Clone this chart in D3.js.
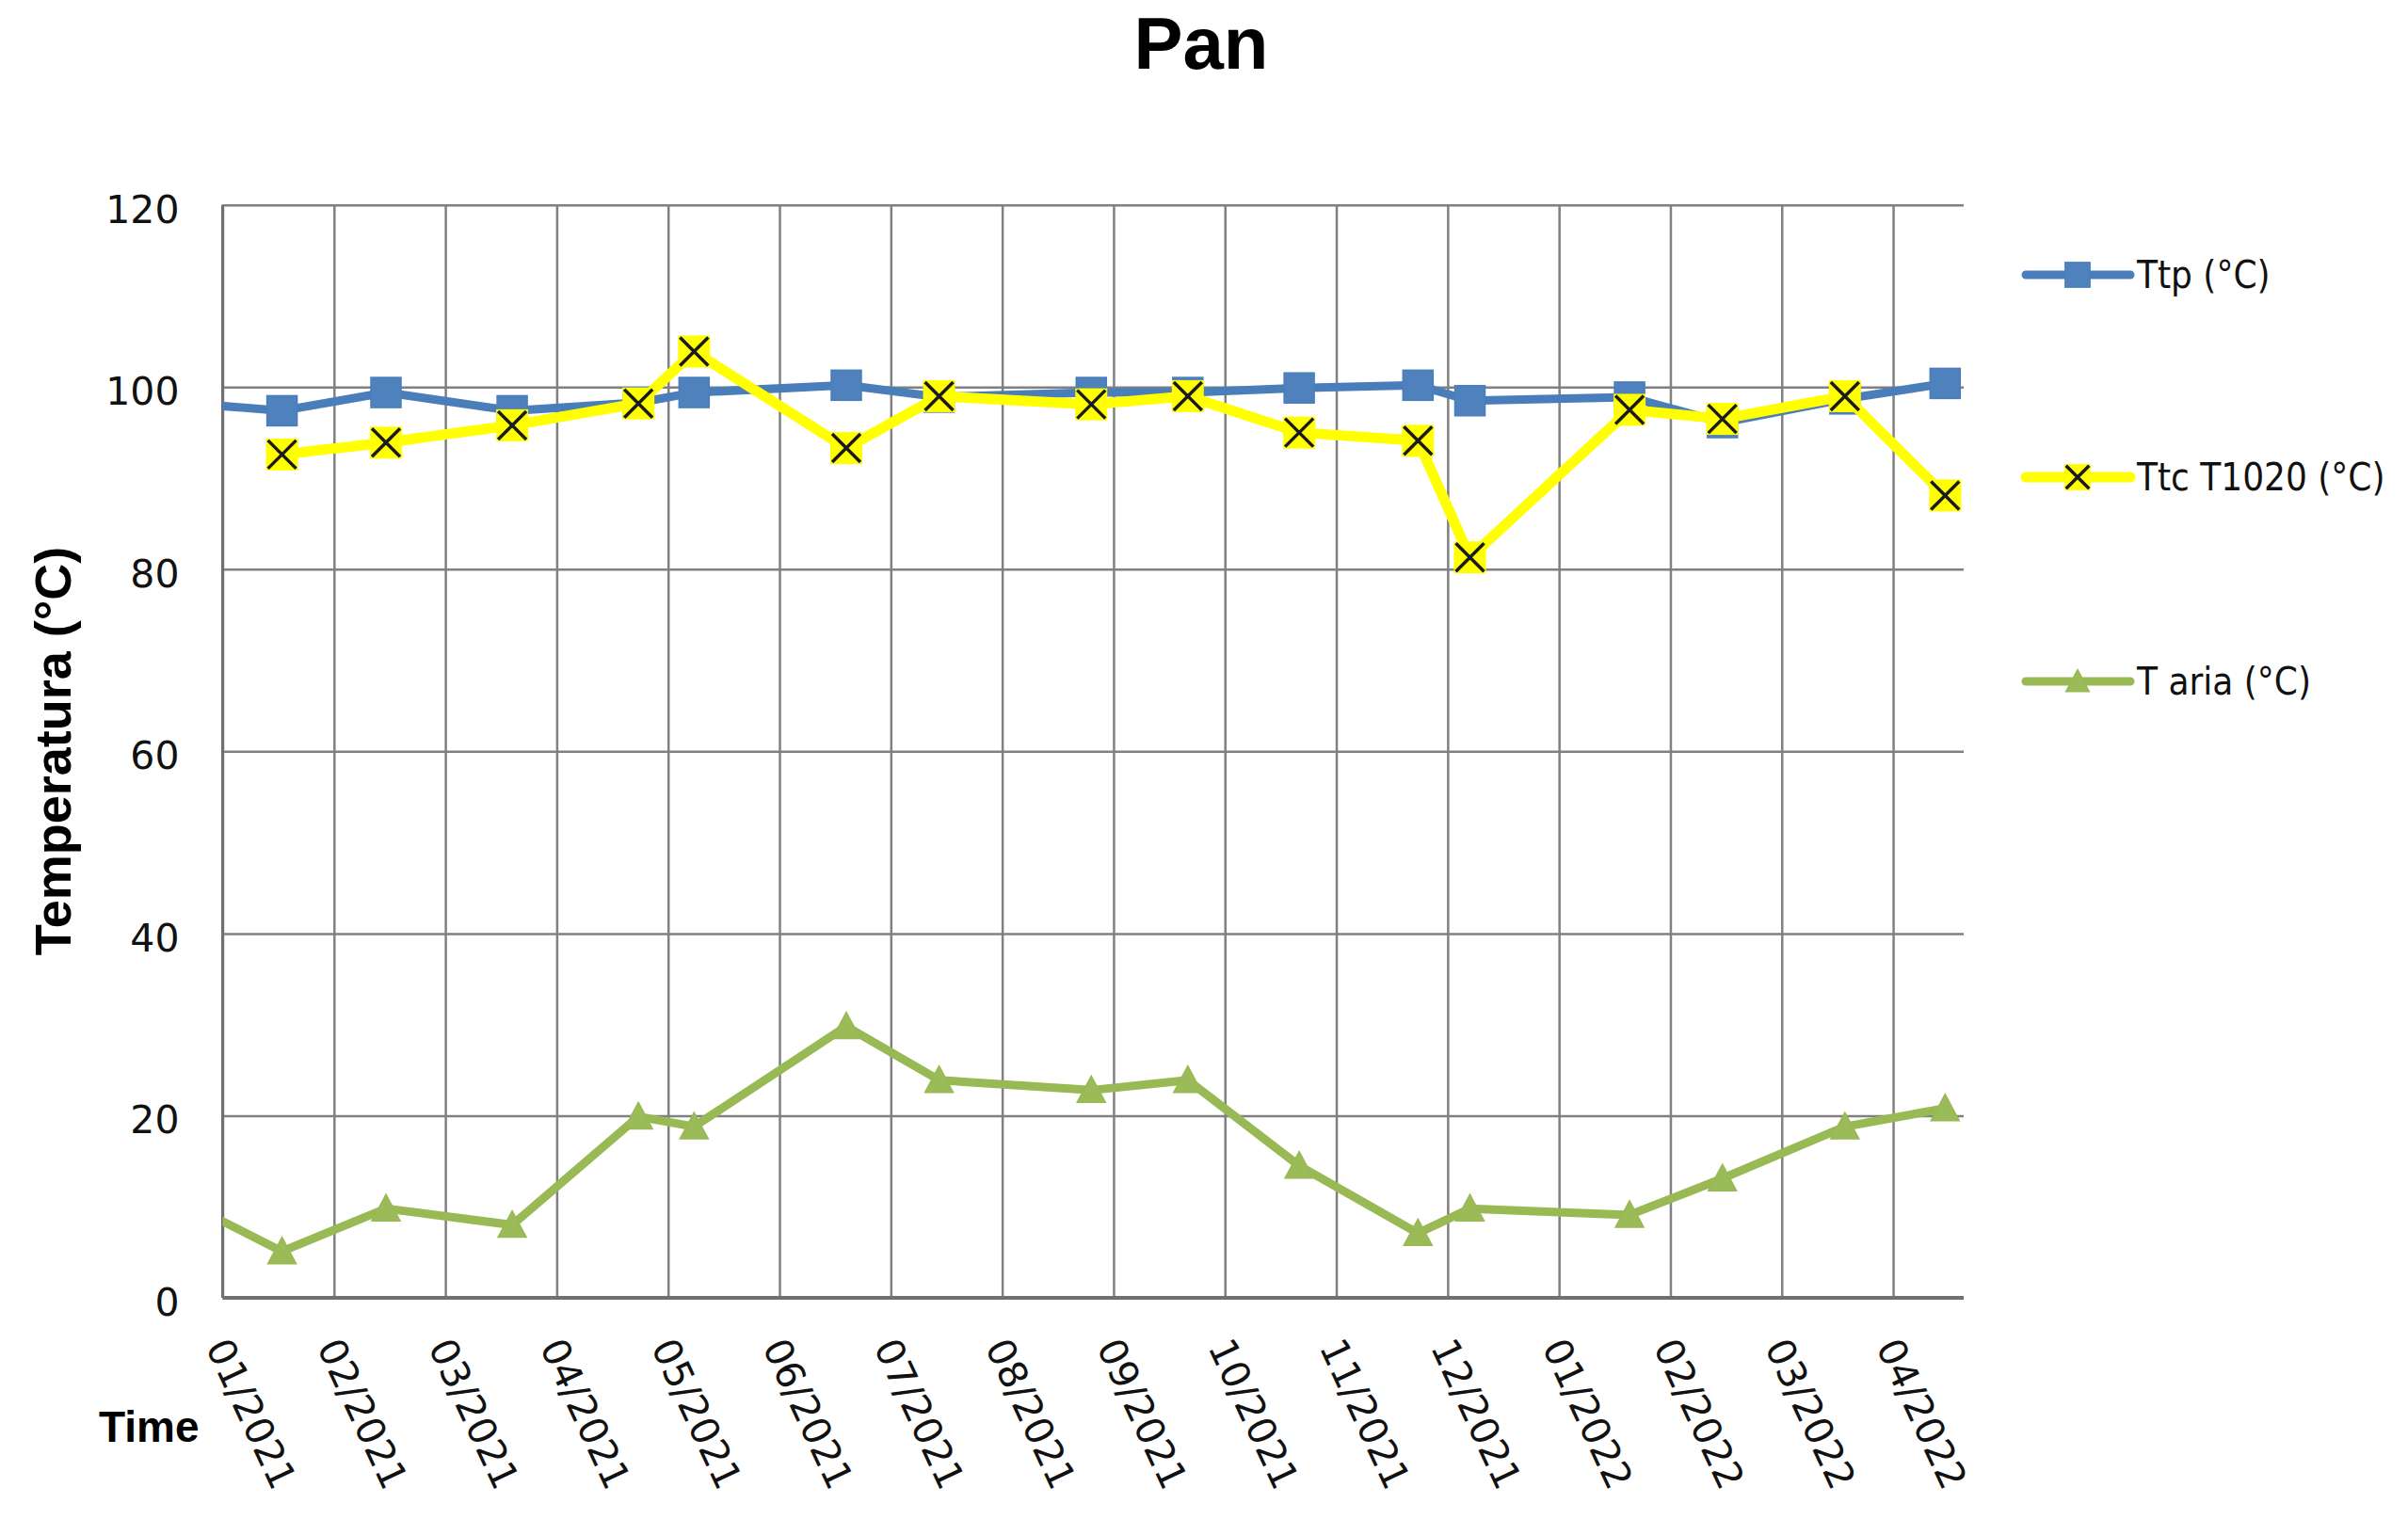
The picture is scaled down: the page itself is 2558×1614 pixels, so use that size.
<!DOCTYPE html>
<html>
<head>
<meta charset="utf-8">
<script src="https://cdn.jsdelivr.net/npm/d3@7"></script>
<style>
  html, body { margin: 0; padding: 0; background: #fff; }
  svg { display: block; }
</style>
</head>
<body>
<svg id="chart" width="2558" height="1614"></svg>
<script>
// ---------------- data ----------------
const chartTitle = "Pan";
const yTitle = "Temperatura (°C)";
const xTitle = "Time";
const tickLabels = ["01/2021","02/2021","03/2021","04/2021","05/2021","06/2021","07/2021","08/2021",
                    "09/2021","10/2021","11/2021","12/2021","01/2022","02/2022","03/2022","04/2022"];
const axisStart = "2021-01-15";
const axisEnd = "2022-04-29";
const tickStepDays = 30;
const yTicks = [0, 20, 40, 60, 80, 100, 120];

const dates = ["2020-12-31","2021-01-31","2021-02-28","2021-04-03","2021-05-07","2021-05-22","2021-07-02",
               "2021-07-27","2021-09-06","2021-10-02","2021-11-01","2021-12-03","2021-12-17",
               "2022-01-29","2022-02-23","2022-03-28","2022-04-24"];
const ttp   = [98.4, 97.4, 99.4, 97.4, 98.3, 99.4, 100.2, 98.9, 99.4, 99.4, 99.9, 100.2, 98.5, 98.9, 96.1, 98.7, 100.4];
const ttc   = [null, 92.6, 93.9, 95.8, 98.2, 103.9, 93.3, 99.0, 98.1, 99.0, 95.0, 94.1, 81.3, 97.5, 96.5, 99.0, 88.1];
const taria = [11.5, 5.1, 9.8, 8.0, 19.9, 18.8, 29.8, 23.9, 22.8, 23.9, 14.5, 7.1, 9.8, 9.1, 13.1, 18.8, 20.8];

const seriesNames = ["Ttp (°C)", "Ttc T1020 (°C)", "T aria (°C)"];

// ---------------- setup ----------------
const parse = d3.utcParse("%Y-%m-%d");
const svg = d3.select("#chart");
svg.append("rect").attr("width", 2558).attr("height", 1614).attr("fill", "#fff");

const L = 236.5, R = 2086, T = 217.7, B = 1379;
const x = d3.scaleUtc().domain([parse(axisStart), parse(axisEnd)]).range([L, R]);
const y = d3.scaleLinear().domain([0, 120]).range([B, T]);
const tickDates = tickLabels.map((_, i) => d3.utcDay.offset(parse(axisStart), i * tickStepDays));

const gridColor = "#808080";
const tickFont = "'DejaVu Sans', Verdana, sans-serif";
const boldFont = "'Liberation Sans', Arial, sans-serif";

// horizontal grid
svg.append("g")
  .attr("transform", `translate(${L},0)`)
  .call(d3.axisLeft(y).tickValues(yTicks).tickSize(-(R - L)).tickFormat(""))
  .call(g => g.select(".domain").remove())
  .call(g => g.selectAll("line").attr("stroke", gridColor).attr("stroke-width", 2.5));

// vertical grid
svg.append("g")
  .attr("transform", `translate(0,${B})`)
  .call(d3.axisBottom(x).tickValues(tickDates).tickSize(-(B - T)).tickFormat(""))
  .call(g => g.select(".domain").remove())
  .call(g => g.selectAll("line").attr("stroke", gridColor).attr("stroke-width", 2.5));

// y axis labels
svg.append("g")
  .attr("transform", `translate(${L},0)`)
  .call(d3.axisLeft(y).tickValues(yTicks).tickSize(0).tickPadding(46))
  .call(g => g.select(".domain").remove())
  .call(g => g.selectAll("text")
    .attr("font-family", tickFont).attr("font-size", 41).attr("fill", "#111").attr("dy", "0.45em"));

// x axis labels
svg.append("g")
  .attr("transform", `translate(0,${B})`)
  .call(d3.axisBottom(x).tickValues(tickDates).tickSize(0).tickFormat((d, i) => tickLabels[i]))
  .call(g => g.select(".domain").remove())
  .call(g => g.selectAll("text")
    .attr("font-family", tickFont).attr("font-size", 41).attr("fill", "#111")
    .attr("x", 0).attr("y", 0).attr("dy", "0.35em")
    .attr("text-anchor", "start")
    .attr("transform", "translate(-6,46) rotate(65)"));

// axis lines
svg.append("line").attr("x1", L).attr("x2", L).attr("y1", T).attr("y2", B)
  .attr("stroke", "#707070").attr("stroke-width", 3);
svg.append("line").attr("x1", L).attr("x2", R).attr("y1", B).attr("y2", B)
  .attr("stroke", "#707070").attr("stroke-width", 4);

// titles
svg.append("text").attr("x", 1276).attr("y", 73).attr("text-anchor", "middle")
  .attr("font-family", boldFont).attr("font-weight", "bold").attr("font-size", 78).text(chartTitle);
svg.append("text").attr("transform", "translate(75,798) rotate(-90)").attr("text-anchor", "middle")
  .attr("font-family", boldFont).attr("font-weight", "bold").attr("font-size", 54).text(yTitle);
svg.append("text").attr("x", 105).attr("y", 1532)
  .attr("font-family", boldFont).attr("font-weight", "bold").attr("font-size", 46).text(xTitle);

// clip
svg.append("clipPath").attr("id", "plotclip")
  .append("rect").attr("x", L).attr("y", T - 40).attr("width", R - L + 40).attr("height", B - T + 60);

const plot = svg.append("g").attr("clip-path", "url(#plotclip)");

const series = [
  { name: seriesNames[0], values: ttp,   line: "#4A7EBB", width: 9,  marker: "square" },
  { name: seriesNames[1], values: ttc,   line: "#FFFF00", width: 11, marker: "x" },
  { name: seriesNames[2], values: taria, line: "#98B954", width: 9,  marker: "triangle" }
];

function drawMarker(g, type, scale) {
  const s = scale || 1;
  if (type === "square") {
    g.append("rect").attr("x", -16 * s).attr("y", -16 * s).attr("width", 32 * s).attr("height", 32 * s)
      .attr("fill", "#4F81BD").attr("stroke", "#4A7EBB").attr("stroke-width", 1.5);
  } else if (type === "x") {
    g.append("rect").attr("x", -17 * s).attr("y", -17 * s).attr("width", 34 * s).attr("height", 34 * s)
      .attr("fill", "#FFFF00");
    g.append("path").attr("d", `M${-15 * s},${-15 * s}L${15 * s},${15 * s}M${15 * s},${-15 * s}L${-15 * s},${15 * s}`)
      .attr("stroke", "#1a1a1a").attr("stroke-width", 3.5).attr("fill", "none");
  } else {
    g.append("path").attr("d", `M0,${-15 * s}L${15 * s},${13 * s}L${-15 * s},${13 * s}Z`)
      .attr("fill", "#9BBB59").attr("stroke", "#98B954").attr("stroke-width", 1.5);
  }
}

series.forEach(sr => {
  const pts = dates.map((d, i) => ({ date: parse(d), v: sr.values[i] })).filter(p => p.v != null);
  const line = d3.line().x(p => x(p.date)).y(p => y(p.v));
  plot.append("path").datum(pts).attr("d", line)
    .attr("fill", "none").attr("stroke", sr.line).attr("stroke-width", sr.width)
    .attr("stroke-linejoin", "round");
  pts.forEach(p => {
    const g = plot.append("g").attr("transform", `translate(${x(p.date)},${y(p.v)})`);
    drawMarker(g, sr.marker, 1);
  });
});

// legend
const legendY = [292, 507, 724];
const legendFont = "'DejaVu Sans Condensed', 'DejaVu Sans', sans-serif";
series.forEach((sr, i) => {
  const g = svg.append("g").attr("transform", `translate(0,${legendY[i]})`);
  g.append("line").attr("x1", 2152).attr("x2", 2263).attr("y1", 0).attr("y2", 0)
    .attr("stroke", sr.line).attr("stroke-width", sr.width).attr("stroke-linecap", "round");
  const m = g.append("g").attr("transform", "translate(2207,0)");
  drawMarker(m, sr.marker, 0.82);
  g.append("text").attr("x", 2270).attr("y", 0).attr("dy", "0.35em")
    .attr("font-family", legendFont).attr("font-stretch", "condensed").attr("font-size", 40).attr("fill", "#111")
    .text(sr.name);
});
</script>
</body>
</html>
